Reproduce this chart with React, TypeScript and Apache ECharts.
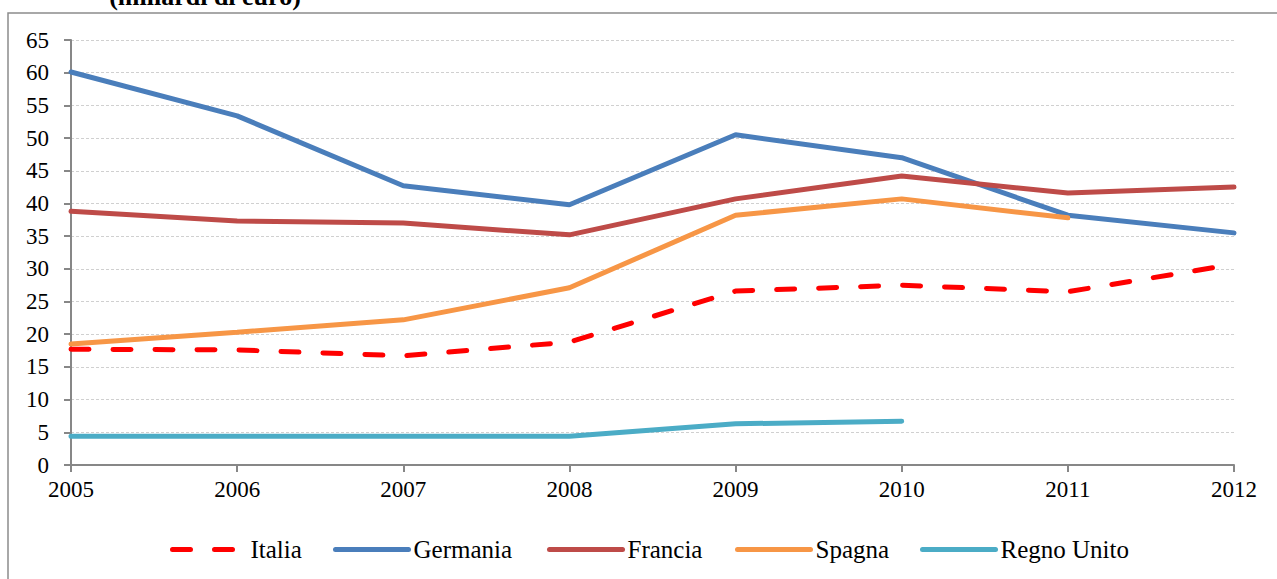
import React, { useEffect, useRef } from "react";
import * as echarts from "echarts";

const years = ["2005", "2006", "2007", "2008", "2009", "2010", "2011", "2012"];
const seriesNames = ["Italia", "Germania", "Francia", "Spagna", "Regno Unito"];
const italia = [17.7, 17.6, 16.7, 18.8, 26.6, 27.5, 26.5, 30.7];
const germania = [60.1, 53.4, 42.7, 39.8, 50.5, 47.0, 38.2, 35.5];
const francia = [38.8, 37.3, 37.0, 35.2, 40.7, 44.2, 41.6, 42.5];
const spagna = [18.5, 20.3, 22.2, 27.1, 38.2, 40.7, 37.8, null];
const regnoUnito = [4.4, 4.4, 4.4, 4.4, 6.3, 6.7, null, null];

const FONT = "Liberation Serif";
const legendLefts = [165, 328, 542, 730, 915];

export default function App() {
  const ref = useRef<HTMLDivElement>(null);
  useEffect(() => {
    const chart = echarts.init(ref.current!, null, { renderer: "svg" });
    const mk = (name: string, data: (number | null)[], color: string, dashed = false) => ({
      name,
      type: "line",
      data,
      symbol: "none",
      showSymbol: false,
      connectNulls: false,
      lineStyle: {
        color,
        width: 5,
        type: dashed ? [18, 24] : "solid",
        cap: "round",
      },
      itemStyle: { color },
    });
    chart.setOption({
      animation: false,
      backgroundColor: "#ffffff",
      textStyle: { fontFamily: FONT },
      graphic: [
        {
          type: "rect",
          shape: { x: 8, y: 13, width: 1400, height: 700 },
          style: { fill: "none", stroke: "#8c8c8c", lineWidth: 1.5 },
          silent: true,
        },
        {
          type: "text",
          x: 205,
          y: 9,
          style: {
            text: "(miliardi di euro)",
            font: "bold 26px Liberation Serif",
            fill: "#000",
            textAlign: "center",
            textVerticalAlign: "bottom",
          },
        },
      ],
      grid: { left: 71, right: 43, top: 40, bottom: 114, containLabel: false },
      legend: seriesNames.map((n, i) => ({
        left: legendLefts[i],
        top: 532,
        itemWidth: 73,
        itemHeight: 12,
        itemStyle: { opacity: 0 },
        lineStyle: { width: 5, cap: "round" },
        textStyle: { fontFamily: FONT, fontSize: 25, color: "#000" },
        data: [n],
      })),
      xAxis: {
        type: "category",
        data: years,
        boundaryGap: false,
        axisLine: { lineStyle: { color: "#878787", width: 2 } },
        axisTick: { show: true, length: 7, lineStyle: { color: "#878787", width: 2 } },
        axisLabel: { color: "#000", fontSize: 23, fontFamily: FONT, margin: 13 },
        splitLine: { show: false },
      },
      yAxis: {
        type: "value",
        min: 0,
        max: 65,
        interval: 5,
        axisLine: { show: true, lineStyle: { color: "#878787", width: 2 } },
        axisTick: { show: true, length: 7, lineStyle: { color: "#878787", width: 2 } },
        axisLabel: { color: "#000", fontSize: 23, fontFamily: FONT, margin: 22 },
        splitLine: { show: true, lineStyle: { color: "#d0d0d0", type: [3, 2], width: 1 } },
      },
      series: [
        mk("Italia", italia, "#ff0000", true),
        mk("Germania", germania, "#4a7ebb"),
        mk("Francia", francia, "#be4b48"),
        mk("Spagna", spagna, "#f79646"),
        mk("Regno Unito", regnoUnito, "#4bacc6"),
      ],
    });
    return () => chart.dispose();
  }, []);
  return <div ref={ref} style={{ width: 1277, height: 579, position: "absolute", left: 0, top: 0 }} />;
}
